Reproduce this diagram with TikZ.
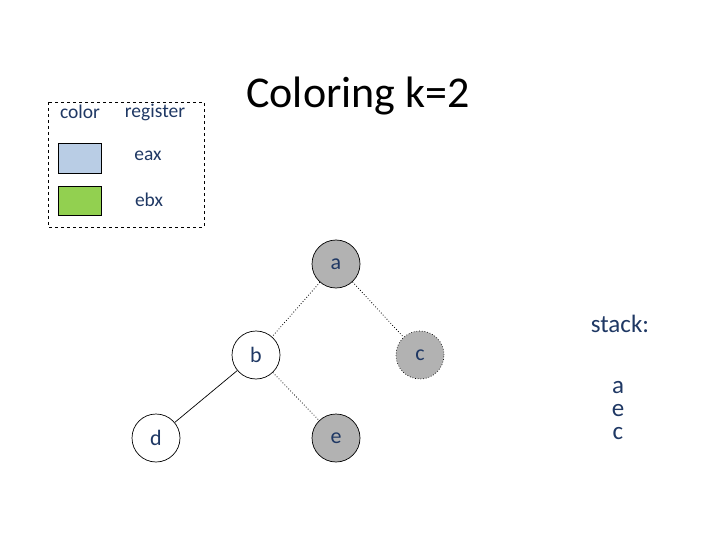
\documentclass[tikz,border=0pt]{standalone}
\usepackage{fontspec}
\setmainfont{Carlito}
\usetikzlibrary{positioning}
\definecolor{txtblue}{HTML}{1F3864}
\definecolor{regblue}{HTML}{B9CDE5}
\definecolor{reggreen}{HTML}{92D050}
\tikzset{
  vertex/.style={circle, draw=black, line width=0.7pt, minimum size=48pt, inner sep=0pt, font=\fontsize{22}{24}\selectfont, text=txtblue},
  spilled/.style={vertex, fill=black!30},
  swatch/.style={draw=black, thick},
  legend/.style={font=\fontsize{19.5}{22}\selectfont, text=txtblue},
  stacktext/.style={font=\fontsize{25}{27}\selectfont, text=txtblue},
  interf/.style={dotted, line width=0.8pt}
}
\begin{document}
\begin{tikzpicture}[x=1pt,y=-1pt]
    \useasboundingbox (0,0) rectangle (720,540);

    % Legend.
    \draw[dashed] (48,102) rectangle (204,227);
    \node[legend] (lcolor) at (80,112) {color};
    \node[legend] (lreg) at (155,112) {register};
    \draw[swatch, fill=regblue] (58,143) rectangle (101,173);
    \node[legend] (leax) at (148,156) {eax};
    \draw[swatch, fill=reggreen] (58,186) rectangle (101,215);
    \node[legend] (lebx) at (149,200) {ebx};

    % Title.
    \node[font=\fontsize{44}{48}\selectfont, text=black] (title) at (358,96) {Coloring k=2};

    % Graph.
    \node[spilled] (a) at (336,264) {a};
    \node[vertex] (b) at (256,355) {b};
    \node[spilled, dotted] (c) at (420,355) {c};
    \node[vertex] (d) at (156,438) {d};
    \node[spilled] (e) at (336,438) {e};
    \draw[interf] (a) -- (b);
    \draw[interf] (a) -- (c);
    \draw[line width=0.7pt] (b) -- (d);
    \draw[interf] (b) -- (e);

    % Stack.
    \node[stacktext] (stack) at (620,324) {stack:};
    \node[stacktext, align=center] (items) at (618,411) {a\\[-4pt]e\\[-4pt]c};
\end{tikzpicture}
\end{document}
